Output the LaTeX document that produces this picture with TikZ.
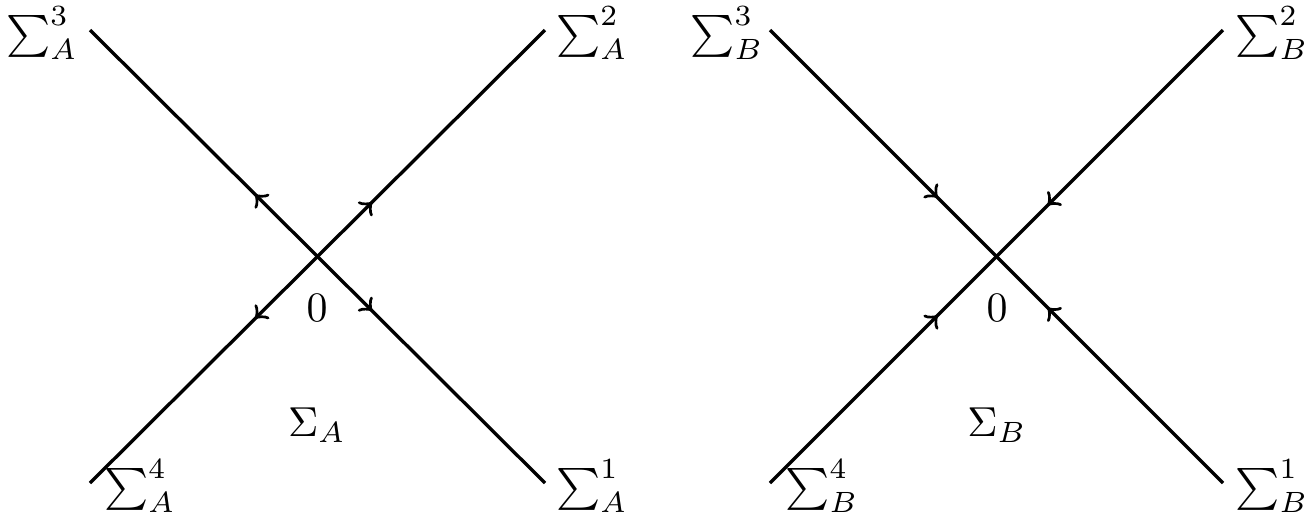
\documentclass[tikz,border=0pt]{standalone}
\usetikzlibrary{decorations.markings}
\begin{document}
\begin{tikzpicture}[x=0.2387pt,y=-0.2387pt,
  ray/.style={line width=0.8pt},
  outA/.style={ray,postaction={decorate},decoration={markings,
     mark=at position 0.38 with {\arrow{<}},
     mark=at position 0.62 with {\arrow{>}}}},
  inB/.style={ray,postaction={decorate},decoration={markings,
     mark=at position 0.37 with {\arrow{>}},
     mark=at position 0.63 with {\arrow{<}}}},
  lbl/.style={inner sep=0pt}]
\useasboundingbox (0,0) rectangle (1315,529);
% left diagram
\coordinate (a3) at (90,30);
\coordinate (a1) at (545,483);
\coordinate (a4) at (90,483);
\coordinate (a2) at (545,30);
\draw[outA] (a3) -- (a1);
\draw[outA] (a4) -- (a2);
\node[lbl] (la3) at (42,33) {$\sum_A^3$};
\node[lbl] (la2) at (592,33) {$\sum_A^2$};
\node[lbl] (la4) at (140,486) {$\sum_A^4$};
\node[lbl] (la1) at (592,486) {$\sum_A^1$};
\node[lbl] (za) at (317,308) {$0$};
\node[lbl] (sa) at (317,425) {$\Sigma_A$};
% right diagram
\coordinate (b3) at (770,30);
\coordinate (b1) at (1223,483);
\coordinate (b4) at (770,483);
\coordinate (b2) at (1223,30);
\draw[inB] (b3) -- (b1);
\draw[inB] (b4) -- (b2);
\node[lbl] (lb3) at (727,33) {$\sum_B^3$};
\node[lbl] (lb2) at (1272,33) {$\sum_B^2$};
\node[lbl] (lb4) at (822,486) {$\sum_B^4$};
\node[lbl] (lb1) at (1272,486) {$\sum_B^1$};
\node[lbl] (zb) at (997,308) {$0$};
\node[lbl] (sb) at (997,425) {$\Sigma_B$};
\end{tikzpicture}
\end{document}
